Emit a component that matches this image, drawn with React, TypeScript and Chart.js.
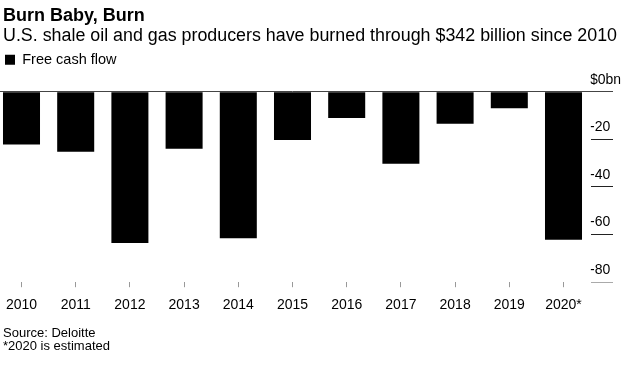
import React, { useEffect, useRef } from 'react';
import { Chart, registerables } from 'chart.js';

Chart.register(...registerables);

// ---- data ----
const categories: string[] = ['2010', '2011', '2012', '2013', '2014', '2015', '2016', '2017', '2018', '2019', '2020*'];
const freeCashFlow: number[] = [-22.2, -25.2, -63.5, -24.0, -61.5, -20.3, -11.0, -30.3, -13.5, -7.0, -62.2];
const seriesLabel = 'Free cash flow';
const yTickValues: number[] = [0, -20, -40, -60, -80];
const yTickLabels: string[] = ['$0bn', '-20', '-40', '-60', '-80'];

const titleText = 'Burn Baby, Burn';
const subtitleText = 'U.S. shale oil and gas producers have burned through $342 billion since 2010';
const sourceText = 'Source: Deloitte';
const noteText = '*2020 is estimated';

const FONT = '"Liberation Sans", Arial, Helvetica, sans-serif';

export default function App() {
  const ref = useRef<HTMLCanvasElement>(null);

  useEffect(() => {
    if (!ref.current) return;
    const legendSpacer = {
      id: 'legendSpacer',
      beforeInit(chart: any) {
        if (!chart.legend) return;
        const origFit = chart.legend.fit;
        chart.legend.fit = function () {
          origFit.call(this);
          this.height += 14.6;
        };
      },
    };

    const chart = new Chart(ref.current, {
      type: 'bar',
      data: {
        labels: categories,
        datasets: [
          {
            label: seriesLabel,
            data: freeCashFlow,
            backgroundColor: '#000',
            borderWidth: 0,
            barPercentage: 0.683,
            categoryPercentage: 1,
          },
        ],
      },
      options: {
        animation: false,
        responsive: false,
        maintainAspectRatio: false,
        devicePixelRatio: 1,
        layout: { padding: { left: 0.4, right: 19.4, top: 42, bottom: 53 } },
        plugins: {
          legend: {
            display: true,
            position: 'top',
            align: 'start',
            labels: {
              boxWidth: 10,
              boxHeight: 10,
              padding: 10.6,
              color: '#000',
              font: { family: FONT, size: 14.5 },
            },
          },
          tooltip: { enabled: false },
          title: { display: false },
        },
        scales: {
          x: {
            type: 'category',
            offset: true,
            grid: {
              offset: false,
              drawOnChartArea: false,
              drawTicks: true,
              tickLength: 5,
              tickColor: '#999',
              tickWidth: 1,
            },
            border: { display: false },
            ticks: {
              color: '#000',
              font: { family: FONT, size: 14 },
              padding: 10,
              maxRotation: 0,
              autoSkip: false,
            },
          },
          y: {
            position: 'right',
            min: yTickValues[yTickValues.length - 1],
            max: yTickValues[0],
            afterBuildTicks: (scale: any) => {
              scale.ticks = yTickValues.map((v) => ({ value: v }));
            },
            ticks: {
              color: '#000',
              font: { family: FONT, size: 14 },
              padding: -23,
              labelOffset: -12,
              callback: (v: any) => {
                const i = yTickValues.indexOf(Number(v));
                return i >= 0 ? yTickLabels[i] : String(v);
              },
            },
            grid: {
              drawOnChartArea: true,
              drawTicks: true,
              tickLength: 22.4,
              color: (ctx: any) => (ctx.tick && ctx.tick.value === 0 ? '#444' : 'rgba(0,0,0,0)'),
              tickColor: (ctx: any) => {
                const v = ctx.tick ? ctx.tick.value : null;
                if (v === 0) return '#444';
                if (v === yTickValues[yTickValues.length - 1]) return '#aaa';
                return '#222';
              },
            },
            border: { display: false },
            afterFit: (s: any) => {
              s.width = 30;
            },
          },
        },
      },
      plugins: [legendSpacer],
    } as any);

    return () => chart.destroy();
  }, []);

  const textBase: React.CSSProperties = {
    position: 'absolute',
    margin: 0,
    whiteSpace: 'nowrap',
    color: '#000',
    fontFamily: FONT,
  };

  return (
    <div
      style={{
        position: 'fixed',
        left: 0,
        top: 0,
        width: 640,
        height: 377,
        background: '#fff',
        overflow: 'hidden',
      }}
    >
      <canvas
        ref={ref}
        width={646}
        height={377}
        style={{ position: 'absolute', left: -6, top: 0, width: 646, height: 377, display: 'block' }}
      />
      <div style={{ ...textBase, left: 3, top: 5, fontSize: 18, lineHeight: '20px', fontWeight: 'bold' }}>{titleText}</div>
      <div style={{ ...textBase, left: 3, top: 25, fontSize: 17.85, lineHeight: '20px' }}>{subtitleText}</div>
      <div style={{ ...textBase, left: 3, top: 325, fontSize: 13, lineHeight: '15px' }}>{sourceText}</div>
      <div style={{ ...textBase, left: 3, top: 338, fontSize: 13, lineHeight: '15px' }}>{noteText}</div>
    </div>
  );
}
